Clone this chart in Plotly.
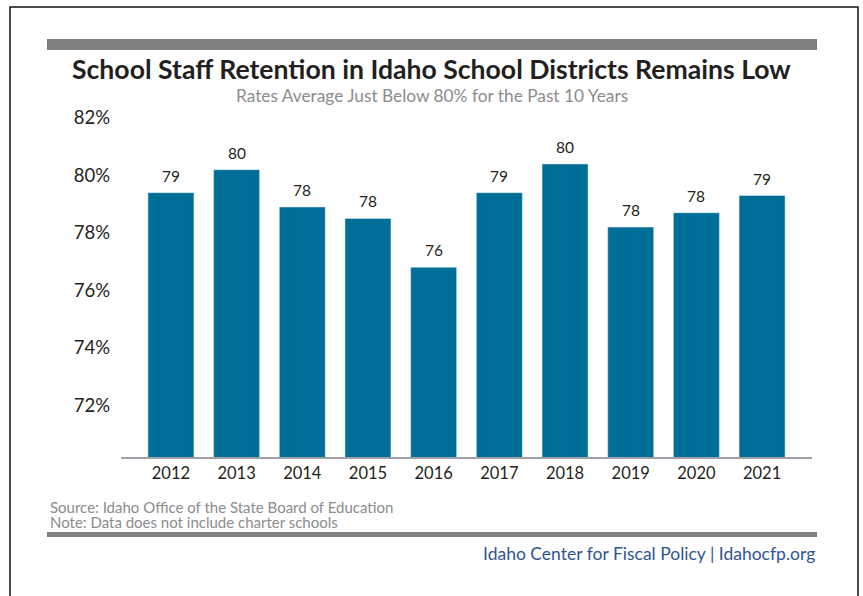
import plotly.graph_objects as go

years = ["2012", "2013", "2014", "2015", "2016", "2017", "2018", "2019", "2020", "2021"]
retention = [79.4, 80.2, 78.9, 78.5, 76.8, 79.4, 80.4, 78.2, 78.7, 79.3]
bar_labels = ["79", "80", "78", "78", "76", "79", "80", "78", "78", "79"]
y_ticks = [72, 74, 76, 78, 80, 82]
y_tick_text = [f"{v}%" for v in y_ticks]

W, H = 863, 596
L, R, T, B = 121, 812, 118, 457  # plot area in pixels

def px(x):
    return (x - L) / (R - L)

def py(y):
    return (B - y) / (B - T)

FONT = "Lato"
DARK = "#231f20"
BAR = "#006f98"
GRAY_BAR = "#808080"

fig = go.Figure()
fig.add_trace(go.Bar(
    x=years, y=retention, marker_color=BAR, width=0.70,
    hoverinfo="x+y",
))

for i, (v, lab) in enumerate(zip(retention, bar_labels)):
    fig.add_annotation(x=i, y=v, text=lab, showarrow=False, xref="x", yref="y",
                       yanchor="bottom", yshift=6,
                       font=dict(family=FONT, size=15.5, color=DARK))

shapes = [
    dict(type="rect", xref="paper", yref="paper", x0=px(10), x1=px(858), y0=py(620), y1=py(7),
         line=dict(color="#111111", width=1.5), fillcolor="rgba(0,0,0,0)", layer="below"),
    dict(type="rect", xref="paper", yref="paper", x0=px(47), x1=px(817), y0=py(50), y1=py(39),
         line=dict(width=0), fillcolor=GRAY_BAR),
    dict(type="rect", xref="paper", yref="paper", x0=px(47), x1=px(817), y0=py(537), y1=py(532),
         line=dict(width=0), fillcolor=GRAY_BAR),
]

texts = [
    dict(x=px(431), y=py(69), text="<b>School Staff Retention in Idaho School Districts Remains Low</b>",
         xanchor="center", font=dict(family=FONT, size=26.6, color=DARK)),
    dict(x=px(432), y=py(95), text="Rates Average Just Below 80% for the Past 10 Years",
         xanchor="center", font=dict(family=FONT, size=17.3, color="#8c8c8c")),
    dict(x=px(48), y=py(507), text="Source: Idaho Office of the State Board of Education",
         xanchor="left", font=dict(family=FONT, size=15, color="#8c8c8c")),
    dict(x=px(48), y=py(522), text="Note: Data does not include charter schools",
         xanchor="left", font=dict(family=FONT, size=15, color="#8c8c8c")),
    dict(x=px(817), y=py(553), text="Idaho Center for Fiscal Policy | Idahocfp.org",
         xanchor="right", font=dict(family=FONT, size=17.5, color="#2f5590")),
]
for t in texts:
    fig.add_annotation(xref="paper", yref="paper", showarrow=False, yanchor="middle", **t)

fig.update_layout(
    width=W, height=H,
    margin=dict(l=L, r=W - R, t=T, b=H - B, pad=0),
    paper_bgcolor="white", plot_bgcolor="white",
    showlegend=False, bargap=0.3,
    shapes=shapes,
    xaxis=dict(type="category", range=[-0.76, 9.76], showgrid=False, zeroline=False,
               showline=True, linecolor="#a0a0a8", linewidth=2, ticks="",
               tickfont=dict(family=FONT, size=16.5, color=DARK)),
    yaxis=dict(range=[70.19, 82], tickmode="array", tickvals=y_ticks, ticktext=y_tick_text,
               showgrid=False, zeroline=False, showline=False, ticks="", ticklabelstandoff=10,
               tickfont=dict(family=FONT, size=18.5, color=DARK)),
)

fig.write_html("out.html")
